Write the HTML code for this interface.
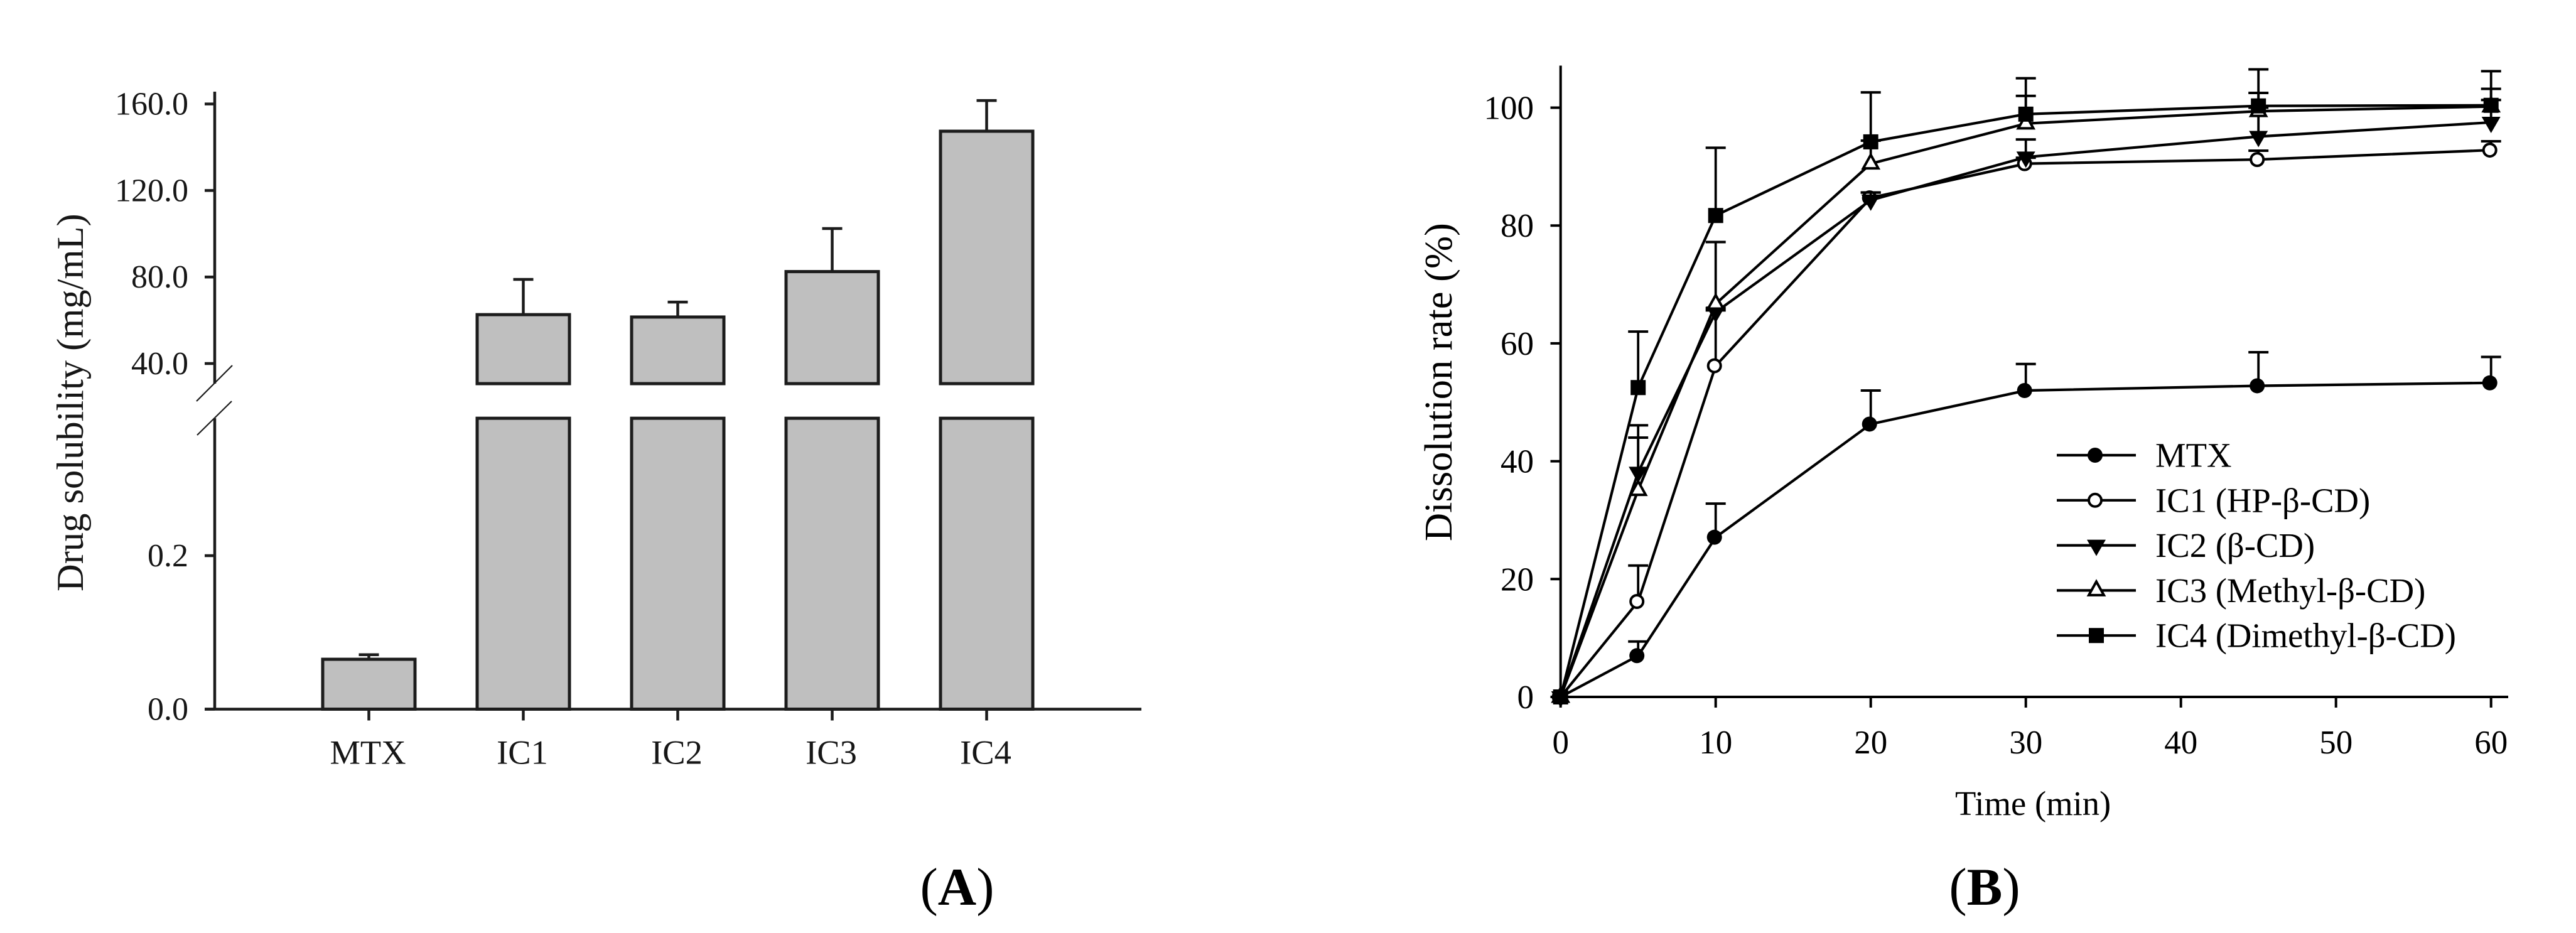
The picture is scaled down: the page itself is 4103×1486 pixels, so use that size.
<!DOCTYPE html>
<html lang="en">
<head>
<meta charset="utf-8">
<title>Drug solubility and dissolution rate</title>
<style>
html,body{margin:0;padding:0;background:#fff;}
svg{display:block;}
text{font-family:"Liberation Serif","DejaVu Serif",serif;fill:#000;}
#panel-a text{fill:#161616;}
</style>
</head>
<body>
<svg id="figure" xmlns="http://www.w3.org/2000/svg" width="4103" height="1486" viewBox="0 0 4103 1486">
  <rect width="4103" height="1486" fill="#ffffff"/>
  <g id="panel-a">
    <text transform="translate(132,942) rotate(-90)" font-size="60.5">Drug solubility (mg/mL)</text>
  </g>
  <g id="panel-b">
    <text transform="translate(2312,862) rotate(-90)" font-size="62.5">Dissolution rate (%)</text>
    <text x="3114" y="1298" font-size="54.6">Time (min)</text>
  </g>
  <text x="1524.5" y="1441" font-size="85" text-anchor="middle">(<tspan font-weight="bold">A</tspan>)</text>
  <text x="3161" y="1441" font-size="85" text-anchor="middle">(<tspan font-weight="bold">B</tspan>)</text>
</svg>
<script>
// Panel A data
const barCategories = ['MTX', 'IC1', 'IC2', 'IC3', 'IC4'];
const barValues = [0.065, 62.6, 61.5, 82.5, 147.4];
const barErrorTops = [0.071, 78.9, 68.4, 102.4, 161.6];
const lowerTickValues = [0, 0.2];
const lowerTickLabels = ['0.0', '0.2'];
const upperTickValues = [40, 80, 120, 160];
const upperTickLabels = ['40.0', '80.0', '120.0', '160.0'];

// Panel B data
const timePoints = [0, 5, 10, 20, 30, 45, 60];
const seriesNames = ['MTX', 'IC1 (HP-β-CD)', 'IC2 (β-CD)', 'IC3 (Methyl-β-CD)', 'IC4 (Dimethyl-β-CD)'];
const mtxValues = [0, 7.0, 27.1, 46.3, 52.0, 52.8, 53.3];
const mtxErrorTops = [0, 9.4, 32.8, 52.0, 56.5, 58.5, 57.7];
const ic1Values = [0, 16.2, 56.2, 84.7, 90.5, 91.2, 92.8];
const ic1ErrorTops = [0, 22.3, 65.6, 85.6, 91.5, 92.7, 94.3];
const ic2Values = [0, 38.1, 65.3, 84.3, 91.6, 95.1, 97.5];
const ic2ErrorTops = [0, 46.1, 66.0, 85.6, 94.6, 100.0, 101.3];
const ic3Values = [0, 35.1, 66.7, 90.5, 97.3, 99.4, 100.2];
const ic3ErrorTops = [0, 44.0, 77.2, 94.4, 102.0, 102.5, 103.2];
const ic4Values = [0, 52.5, 81.7, 94.2, 98.9, 100.3, 100.4];
const ic4ErrorTops = [0, 62.0, 93.2, 102.6, 105.0, 106.5, 106.2];
const xTickValues = [0, 10, 20, 30, 40, 50, 60];
const yTickValues = [0, 20, 40, 60, 80, 100];

const NS = 'http://www.w3.org/2000/svg';
function make(parent, tag, props, content) {
  const el = document.createElementNS(NS, tag);
  for (const k in props) el.setAttribute(k, props[k]);
  if (content !== undefined) el.textContent = content;
  parent.appendChild(el);
  return el;
}
function segment(parent, x1, y1, x2, y2, color, width) {
  return make(parent, 'line', { x1: x1, y1: y1, x2: x2, y2: y2, stroke: color, 'stroke-width': width });
}

/* ---------- Panel A ---------- */
const panelA = document.getElementById('panel-a');
const INK = '#1c1c1c';
const AXIS_LEFT_A = 342;
const AXIS_RIGHT_A = 1818;
const ZERO_Y_A = 1129.5;
const LOWER_SCALE = 1222.5;          // px per mg/mL, lower segment
const UPPER_SCALE = 137.8 / 40;      // px per mg/mL, upper segment
const UPPER_REF_Y = 579;
const LOWER_BREAK_VALUE = 0.379;
const UPPER_BREAK_VALUE = 30.7;
const BAR_FIRST_X = 587.5;
const BAR_STEP = 246;
const BAR_WIDTH = 147;

function yLower(v) { return ZERO_Y_A - v * LOWER_SCALE; }
function yUpper(v) { return UPPER_REF_Y - (v - 40) * UPPER_SCALE; }
function yBroken(v) { return v <= LOWER_BREAK_VALUE ? yLower(v) : yUpper(v); }
function xBar(i) { return BAR_FIRST_X + i * BAR_STEP; }

barCategories.forEach(function (cat, i) {
  const cx = xBar(i);
  const value = barValues[i];
  const errorStem = segment(panelA, cx, yBroken(value), cx, yBroken(barErrorTops[i]), INK, 4.5);
  
  
  const errorCap = segment(panelA, cx - 16, yBroken(barErrorTops[i]), cx + 16, yBroken(barErrorTops[i]), INK, 4.5);
  
  
  const lowerTop = value <= LOWER_BREAK_VALUE ? yLower(value) : yLower(LOWER_BREAK_VALUE);
  const barLower = make(panelA, 'rect', { x: cx - BAR_WIDTH / 2, y: lowerTop, width: BAR_WIDTH, height: ZERO_Y_A - lowerTop, fill: '#bfbfbf', stroke: INK, 'stroke-width': 5 });
  
  
  if (value > LOWER_BREAK_VALUE) {
    const upperTop = yUpper(value);
    const barUpper = make(panelA, 'rect', { x: cx - BAR_WIDTH / 2, y: upperTop, width: BAR_WIDTH, height: yUpper(UPPER_BREAK_VALUE) - upperTop, fill: '#bfbfbf', stroke: INK, 'stroke-width': 5 });
    
    
  }
  const tick = segment(panelA, cx, ZERO_Y_A, cx, ZERO_Y_A + 18, INK, 4.5);
  
  
  const label = make(panelA, 'text', { x: cx - 1.5, y: 1216.5, 'font-size': 54.5, 'text-anchor': 'middle' }, cat);
  
  
});

const axisLowerA = segment(panelA, AXIS_LEFT_A, yLower(LOWER_BREAK_VALUE), AXIS_LEFT_A, ZERO_Y_A, INK, 4.5);


const axisUpperA = segment(panelA, AXIS_LEFT_A, 146, AXIS_LEFT_A, yUpper(UPPER_BREAK_VALUE), INK, 4.5);


const xAxisA = segment(panelA, 326, ZERO_Y_A, AXIS_RIGHT_A, ZERO_Y_A, INK, 4.5);


const breakMarkTop = segment(panelA, 313, 639, 370, 582, INK, 2.2);


const breakMarkBottom = segment(panelA, 314, 693, 369, 639, INK, 2.2);



function addTickA(value, labelText, yFn) {
  const y = yFn(value);
  const t = segment(panelA, 326, y, AXIS_LEFT_A, y, INK, 4.5);
  
  
  const l = make(panelA, 'text', { x: 300, y: y + 17, 'font-size': 52, 'text-anchor': 'end' }, labelText);
  
  
}
lowerTickValues.forEach(function (v, i) { addTickA(v, lowerTickLabels[i], yLower); });
upperTickValues.forEach(function (v, i) { addTickA(v, upperTickLabels[i], yUpper); });

/* ---------- Panel B ---------- */
const panelB = document.getElementById('panel-b');
const AXIS_X0 = 2485.7;
const X_SCALE = 24.7;
const AXIS_Y0 = 1110;
const Y_SCALE = 9.385;
const LINE_W = 4.2;
function xTime(t) { return AXIS_X0 + t * X_SCALE; }
function yRate(v) { return AXIS_Y0 - v * Y_SCALE; }

const yAxisB = segment(panelB, AXIS_X0, 104.5, AXIS_X0, AXIS_Y0, '#000', 4);


const xAxisB = segment(panelB, AXIS_X0, AXIS_Y0, 3995, AXIS_Y0, '#000', 4);



xTickValues.forEach(function (v) {
  const t = segment(panelB, xTime(v), AXIS_Y0, xTime(v), AXIS_Y0 + 17, '#000', 4);
  
  
  const l = make(panelB, 'text', { x: xTime(v), y: 1200, 'font-size': 53, 'text-anchor': 'middle' }, String(v));
  
  
});
yTickValues.forEach(function (v) {
  const t = segment(panelB, 2469.5, yRate(v), AXIS_X0, yRate(v), '#000', 4);
  
  
  const l = make(panelB, 'text', { x: 2443, y: yRate(v) + 18, 'font-size': 53, 'text-anchor': 'end' }, String(v));
  
  
});

function drawMarker(parent, kind, x, y) {
  if (kind === 'filled-circle') {
    return make(parent, 'circle', { cx: x - 2, cy: y, r: 12, fill: '#000' });
  }
  if (kind === 'open-circle') {
    return make(parent, 'circle', { cx: x - 2, cy: y, r: 10, fill: '#fff', stroke: '#000', 'stroke-width': 4 });
  }
  if (kind === 'filled-down') {
    return make(parent, 'polygon', { points: (x - 15) + ',' + (y - 9) + ' ' + (x + 15) + ',' + (y - 9) + ' ' + x + ',' + (y + 17), fill: '#000' });
  }
  if (kind === 'open-up') {
    return make(parent, 'polygon', { points: (x - 12) + ',' + (y + 7.5) + ' ' + (x + 12) + ',' + (y + 7.5) + ' ' + x + ',' + (y - 14), fill: '#fff', stroke: '#000', 'stroke-width': 4 });
  }
  return make(parent, 'rect', { x: x - 12, y: y - 12, width: 24, height: 24, fill: '#000' });
}

const seriesValues = [mtxValues, ic1Values, ic2Values, ic3Values, ic4Values];
const seriesErrorTops = [mtxErrorTops, ic1ErrorTops, ic2ErrorTops, ic3ErrorTops, ic4ErrorTops];
const seriesMarkers = ['filled-circle', 'open-circle', 'filled-down', 'open-up', 'filled-square'];
const seriesKeys = ['mtx', 'ic1', 'ic2', 'ic3', 'ic4'];

seriesValues.forEach(function (values, s) {
  const key = seriesKeys[s];
  const group = make(panelB, 'g', {});
  
  
  const points = timePoints.map(function (t, i) { return xTime(t) + ',' + yRate(values[i]); }).join(' ');
  const line = make(group, 'polyline', { points: points, fill: 'none', stroke: '#000', 'stroke-width': LINE_W });
  
  
  timePoints.forEach(function (t, i) {
    const top = seriesErrorTops[s][i];
    if (top > values[i]) {
      const stem = segment(group, xTime(t), yRate(values[i]), xTime(t), yRate(top), '#000', 3.8);
      
      
      const cap = segment(group, xTime(t) - 16, yRate(top), xTime(t) + 16, yRate(top), '#000', 4);
      
      
    }
  });
  timePoints.forEach(function (t, i) {
    const marker = drawMarker(group, seriesMarkers[s], xTime(t), yRate(values[i]));
    
    
  });
});

/* Legend */
const legend = make(panelB, 'g', {});


seriesNames.forEach(function (name, i) {
  const rowY = 725 + i * 71.8;
  const entry = make(legend, 'g', {});
  
  
  const sample = segment(entry, 3276, rowY, 3402, rowY, '#000', LINE_W);
  
  
  const mark = drawMarker(entry, seriesMarkers[i], 3339, rowY);
  
  
  const label = make(entry, 'text', { x: 3433, y: rowY + 18.5, 'font-size': 54.7 }, name);
  
  
});
</script>
</body>
</html>
